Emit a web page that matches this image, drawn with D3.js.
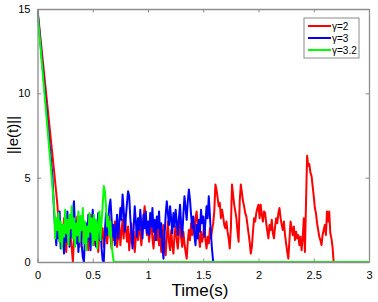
<!DOCTYPE html>
<html>
<head>
<meta charset="utf-8">
<script src="https://cdn.jsdelivr.net/npm/d3@7"></script>
<style>
  body { margin: 0; background: #fff; }
  text { font-family: Arial, "Liberation Sans", sans-serif; }
</style>
</head>
<body>
<div id="wrapper"></div>
<script>
// sample step of the noisy part (s)
const dt = 0.01;

// red: gamma = 2
const redHeadT = [0, 0.15, 0.18];
const redHeadE = [15, 5.4, 3.4];
const redStart = 0.19;
const redE = [
  2.4, 1.2, 2.0, 0.9, 1.7, 2.6, 1.3, 0.6, 1.9, 1.1, 2.3, 1.5, 0.8, 0.0, 1.4, 2.1, 1.2, 2.7, 1.6, 0.9,
  2.0, 1.4, 2.5, 1.8, 1.0, 2.2, 1.5, 0.7, 1.9, 2.8, 1.3, 2.1, 1.0, 1.7, 2.4, 1.2, 0.6, 1.8, 2.6, 1.4,
  2.0, 0.9, 1.6, 2.3, 1.1, 1.9, 2.7, 1.5, 0.8, 2.0, 1.3, 2.4, 1.7, 0.9, 1.6, 2.2, 1.0, 1.8, 2.5, 1.4,
  2.8, 1.9, 1.2, 2.1, 0.7, 1.5, 2.3, 1.1, 1.8, 0.6, 1.4, 2.2, 1.3, 2.6, 1.7, 1.0, 2.0, 2.7, 3.3, 2.4,
  1.6, 2.1, 1.2, 1.9, 2.5, 1.4, 0.8, 1.7, 2.3, 1.3, 2.0, 1.0, 1.6, 0.6, 1.4, 2.2, 1.1, 0.4, 1.5, 2.4,
  1.2, 0.7, 1.9, 1.0, 0.5, 1.6, 2.1, 1.3, 0.8, 1.7, 2.5, 1.4, 0.9, 1.8, 1.1, 0.6, 0.2, 1.2, 1.9, 1.3,
  2.3, 1.6, 2.4, 1.7, 2.6, 3.0, 2.2, 1.5, 0.9, 1.8, 1.2, 1.6, 2.4, 1.3, 0.8, 1.5, 1.1, 2.0, 1.4, 1.9,
  2.3, 3.0, 4.6, 4.3, 3.8, 3.3, 3.5, 2.6, 3.1, 2.7, 2.2, 2.0, 2.4, 1.8, 1.4, 0.8, 2.0, 4.6, 4.0, 3.4,
  3.0, 2.6, 1.8, 1.2, 3.6, 4.6, 4.1, 3.6, 3.3, 2.9, 2.7, 2.2, 1.7, 1.2, 0.5, 0.9, 1.8, 2.6, 2.4, 2.9,
  3.2, 3.4, 2.6, 3.4, 2.8, 2.4, 3.0, 2.9, 2.3, 1.8, 1.4, 2.2, 1.9, 2.5, 1.7, 1.4, 2.1, 2.6, 2.3, 2.9,
  3.2, 2.6, 2.2, 1.9, 2.4, 1.6, 1.1, 0.6, 0.2, 1.3, 2.4, 2.0, 1.6, 2.1, 1.3, 1.8, 1.4, 1.6, 1.0, 1.5,
  0.7, 1.4, 2.6, 0.6, 3.5, 6.3, 5.7, 5.8, 5.3, 5.1, 4.5, 3.9, 3.2, 2.9, 2.3, 1.9, 1.5, 1.3, 1.0, 1.6,
  1.9, 2.2, 1.6, 3.0, 2.4, 3.0, 1.7, 1.4, 0.9, 0.0
];

// blue: gamma = 3
const blueHeadT = [0, 0.135, 0.15];
const blueHeadE = [14.9, 5.1, 3.0];
const blueStart = 0.16;
const blueE = [
  2.0, 1.0, 2.6, 1.4, 3.0, 0.8, 2.2, 1.6, 0.5, 2.4, 1.2, 3.0, 1.8, 0.9, 2.6, 1.5, 2.9, 3.6, 2.0, 1.1,
  2.4, 0.6, 1.8, 2.7, 1.0, 0.3, 0.0, 1.5, 2.3, 1.2, 2.8, 1.7, 0.7, 2.1, 3.1, 1.4, 2.5, 0.9, 1.9, 2.9,
  1.3, 2.2, 0.8, 0.1, 0.0, 1.8, 2.9, 1.6, 2.4, 3.3, 3.7, 2.6, 1.5, 2.2, 1.0, 1.9, 2.8, 1.4, 2.3, 3.2,
  2.5, 4.0, 3.1, 1.8, 2.7, 3.5, 4.2, 3.9, 2.6, 1.7, 0.8, 2.0, 3.3, 2.4, 1.5, 2.6, 1.9, 3.1, 2.2, 1.4,
  2.8, 2.0, 3.0, 1.7, 2.4, 1.6, 2.9, 2.1, 3.2, 1.8, 2.5, 1.3, 2.7, 2.0, 3.0, 1.5, 2.3, 0.9, 0.2, 1.6,
  2.8, 3.6, 2.9, 2.2, 3.3, 2.5, 1.7, 2.9, 2.1, 3.1, 2.4, 1.6, 2.6, 3.4, 2.2, 1.5, 2.8, 3.9, 3.2, 2.5,
  3.6, 4.3, 3.7, 2.8, 2.0, 2.7, 1.6, 1.0, 2.2, 1.4, 2.5, 1.8, 3.1, 2.3, 2.7, 1.5, 2.4, 3.3, 2.6, 3.9,
  2.8, 1.6, 0.7, 0.0
];

// green: gamma = 3.2
const greenHeadT = [0, 0.125, 0.15];
const greenHeadE = [14.8, 5.3, 3.3];
const greenStart = 0.16;
const greenE = [
  1.4, 2.6, 1.9, 2.9, 1.2, 2.4, 0.8, 2.2, 1.5, 3.1, 1.7, 2.5, 1.0, 2.8, 2.0, 3.3, 1.4, 2.6, 0.9, 2.3,
  1.6, 3.0, 1.2, 2.7, 1.9, 3.2, 1.1, 2.4, 0.7, 2.1, 1.5, 2.9, 1.8, 2.6, 1.0, 2.8, 1.3, 2.5, 0.8, 2.2,
  3.0, 1.3, 2.4, 3.4, 4.5, 4.2, 3.3, 2.1, 2.7, 1.6, 2.4, 1.1, 0.5, 0.0
];
const greenTailT = [3];
const greenTailE = [0];

const seriesNames = ["γ=2", "γ=3", "γ=3.2"];
const seriesColors = ["#ff0000", "#0000ff", "#00ff00"];
const xTicks = [0, 0.5, 1, 1.5, 2, 2.5, 3];
const yTicks = [0, 5, 10, 15];

function buildSeries(headT, headE, start, values, tailT, tailE) {
    const pts = headT.map((t, i) => [t, headE[i]]);
    values.forEach((v, i) => pts.push([start + i * dt, v]));
    (tailT || []).forEach((t, i) => pts.push([t, tailE[i]]));
    return pts;
}

const series = [
    buildSeries(redHeadT, redHeadE, redStart, redE),
    buildSeries(blueHeadT, blueHeadE, blueStart, blueE),
    buildSeries(greenHeadT, greenHeadE, greenStart, greenE, greenTailT, greenTailE)
];

const dimension = {
    width: 378,
    height: 302,
    margin: { top: 9, left: 37.5, bottom: 40, right: 9 }
};
dimension.boundedWidth = dimension.width - dimension.margin.left - dimension.margin.right;
dimension.boundedHeight = 262 - dimension.margin.top;

const svg = d3.select("#wrapper").append("svg")
    .attr("width", dimension.width)
    .attr("height", dimension.height);

const bounds = svg.append("g")
    .attr("transform", `translate(${dimension.margin.left},${dimension.margin.top})`);

const xScaler = d3.scaleLinear().domain([0, 3]).range([0, dimension.boundedWidth]);
const yScaler = d3.scaleLinear().domain([0, 15]).range([dimension.boundedHeight, 0]);

bounds.append("clipPath").attr("id", "clip")
    .append("rect")
    .attr("x", 0).attr("y", -2)
    .attr("width", dimension.boundedWidth)
    .attr("height", dimension.boundedHeight + 2);

const lineGen = d3.line()
    .x(d => xScaler(d[0]))
    .y(d => yScaler(d[1]));

const lines = bounds.append("g").attr("clip-path", "url(#clip)");
series.forEach((pts, i) => {
    lines.append("path")
        .attr("d", lineGen(pts))
        .attr("fill", "none")
        .attr("stroke", seriesColors[i])
        .attr("stroke-width", 2)
        .attr("stroke-linejoin", "round");
});

// box axes, ticks pointing inwards
const axisColor = "#8c8c8c";
const tickLen = 3.5;
const xAxisGen = d3.axisBottom(xScaler).tickValues(xTicks).tickSizeInner(-tickLen).tickSizeOuter(0).tickPadding(9).tickFormat(d3.format("~g"));
const xAxis = bounds.append("g")
    .attr("transform", `translate(0,${dimension.boundedHeight})`)
    .call(xAxisGen);
const yAxisGen = d3.axisLeft(yScaler).tickValues(yTicks).tickSizeInner(-tickLen).tickSizeOuter(0).tickPadding(7);
const yAxis = bounds.append("g").call(yAxisGen);
const xTop = bounds.append("g").call(d3.axisTop(xScaler).tickValues(xTicks).tickSizeInner(-tickLen).tickSizeOuter(0).tickFormat(""));
const yRight = bounds.append("g")
    .attr("transform", `translate(${dimension.boundedWidth},0)`)
    .call(d3.axisRight(yScaler).tickValues(yTicks).tickSizeInner(-tickLen).tickSizeOuter(0).tickFormat(""));

[xAxis, yAxis, xTop, yRight].forEach(a => {
    a.selectAll("path").attr("stroke", axisColor).attr("stroke-width", 1.3);
    a.selectAll("line").attr("stroke", axisColor);
    a.selectAll("text").attr("fill", "#000").attr("font-size", "11px");
});

svg.append("text")
    .attr("x", 200)
    .attr("y", 296)
    .attr("text-anchor", "middle")
    .attr("font-size", "17px")
    .attr("fill", "#000")
    .text("Time(s)");

svg.append("text")
    .attr("transform", "translate(18,135) rotate(-90)")
    .attr("text-anchor", "middle")
    .attr("font-size", "15px")
    .attr("fill", "#000")
    .text("||e(t)||");

// legend
const legend = svg.append("g").attr("transform", "translate(304,18)");
legend.append("rect")
    .attr("width", 55).attr("height", 40)
    .attr("fill", "#fff")
    .attr("stroke", axisColor);
seriesNames.forEach((name, i) => {
    const y = 8 + i * 12;
    legend.append("line")
        .attr("x1", 4).attr("x2", 27)
        .attr("y1", y).attr("y2", y)
        .attr("stroke", seriesColors[i])
        .attr("stroke-width", 2);
    legend.append("text")
        .attr("x", 28).attr("y", y + 3.5)
        .attr("font-size", "10px")
        .attr("fill", "#000")
        .text(name);
});
</script>
</body>
</html>
